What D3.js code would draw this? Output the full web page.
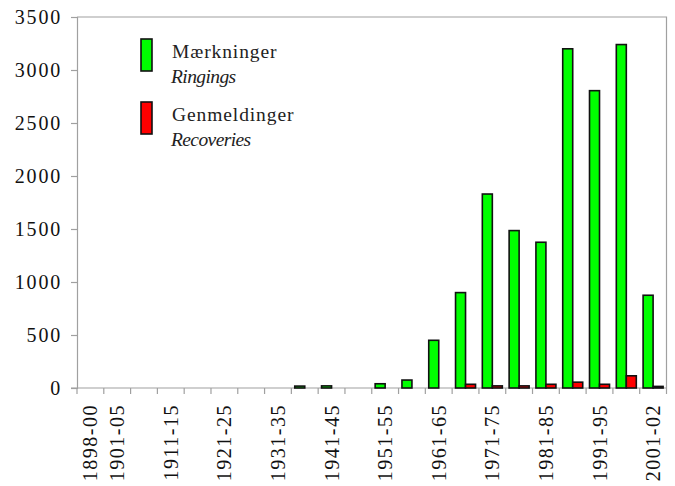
<!DOCTYPE html>
<html><head><meta charset="utf-8">
<script src="https://cdn.jsdelivr.net/npm/d3@7"></script>
<style>body{margin:0;background:#fff}svg{display:block}</style>
</head><body><svg id="c" width="675" height="486"></svg>
<script>
const categories = ["1898-00","1901-05","1906-10","1911-15","1916-20","1921-25","1926-30","1931-35","1936-40","1941-45","1946-50","1951-55","1956-60","1961-65","1966-70","1971-75","1976-80","1981-85","1986-90","1991-95","1996-00","2001-02"];
const ringings   = [0,0,0,0,0,0,0,0,18,20,0,40,75,450,900,1830,1485,1375,3200,2805,3240,875];
const recoveries = [0,0,0,0,0,0,0,0,0,0,0,0,0,0,35,20,20,35,55,35,115,15];
const tickLabels = ["1898-00","1901-05","","1911-15","","1921-25","","1931-35","","1941-45","","1951-55","","1961-65","","1971-75","","1981-85","","1991-95","","2001-02"];
const yTicks = [0,500,1000,1500,2000,2500,3000,3500];
const seriesNames = [["Mærkninger","Ringings"],["Genmeldinger","Recoveries"]];
const colors = ["#00ff00","#ff0000"];

const FONT = "Liberation Serif";
const svg = d3.select("#c");
const L = 77, R = 666.5, T = 17, B = 388;
const x = d3.scaleBand().domain(categories).range([L, R]).padding(0);
const sub = d3.scaleBand().domain([0,1]).range([0, x.bandwidth()]).paddingInner(0).paddingOuter(0.34);
const y = d3.scaleLinear().domain([0,3500]).range([B, T]);

function serif(sel){ return sel.attr("font-family", FONT).style("font-family", "'Liberation Serif'", "important"); }

// plot border (top, right)
svg.append("path").attr("d", `M${L},${T}H${R}V${B}`).attr("fill","none").attr("stroke","#a0a0a0").attr("stroke-width",1.2);

// y axis (lines via d3.axis, labels drawn from the scale)
const ya = svg.append("g").attr("transform",`translate(${L},0)`)
  .call(d3.axisLeft(y).tickValues(yTicks).tickSize(6).tickFormat(""));
ya.select(".domain").attr("stroke","#a0a0a0").attr("stroke-width",1.2);
ya.selectAll(".tick line").attr("stroke","#a0a0a0").attr("stroke-width",1.2);
serif(svg.append("g").selectAll("text").data(yTicks).join("text"))
  .attr("x", L - 15).attr("y", d => y(d)).attr("dy","0.35em")
  .attr("text-anchor","end").attr("fill","#111").attr("font-size",20).attr("letter-spacing","1.8px")
  .text(d => d3.format("d")(d));

// x axis
const xa = svg.append("g").attr("transform",`translate(0,${B})`)
  .call(d3.axisBottom(x).tickSize(0).tickFormat(""));
xa.select(".domain").attr("stroke","#a0a0a0").attr("stroke-width",1.2).attr("d",`M${L-6},0H${R}`);
serif(svg.append("g").selectAll("text").data(categories.map((c,i)=>({c, t: tickLabels[i]})).filter(d=>d.t)).join("text"))
  .attr("transform", d => `translate(${x(d.c) + x.bandwidth()/2},${B + 16}) rotate(-90)`)
  .attr("dy","0.35em").attr("text-anchor","end").attr("fill","#111")
  .attr("font-size",20).attr("letter-spacing","1.5px").text(d => d.t);
// boundary ticks
const bounds = categories.map(c => x(c)).concat([R]);
svg.append("g").selectAll("line").data(bounds).join("line")
  .attr("x1",d=>d).attr("x2",d=>d).attr("y1",B).attr("y2",B+6)
  .attr("stroke","#a0a0a0").attr("stroke-width",1.2);

// bars
const series = [ringings, recoveries];
series.forEach((vals, si) => {
  svg.append("g").selectAll("rect")
    .data(categories.map((c,i)=>({c, v: vals[i]})).filter(d=>d.v>0))
    .join("rect")
    .attr("x", d => x(d.c) + sub(si))
    .attr("width", sub.bandwidth())
    .attr("y", d => y(d.v))
    .attr("height", d => B - y(d.v))
    .attr("fill", colors[si]).attr("stroke","#111").attr("stroke-width",1.6);
});

// legend
const lg = svg.append("g");
const legY = [39, 102];
seriesNames.forEach((n, i) => {
  lg.append("rect").attr("x",141).attr("y",legY[i]).attr("width",11).attr("height",32)
    .attr("fill",colors[i]).attr("stroke","#111").attr("stroke-width",1.6);
  serif(lg.append("text")).attr("x",172).attr("y",legY[i]+18.5).attr("fill","#222").attr("font-size",19.5).attr("letter-spacing","0.9px").text(n[0]);
  serif(lg.append("text")).attr("x",171).attr("y",legY[i]+44).attr("fill","#222").attr("font-size",19.5).attr("font-style","italic").attr("letter-spacing","-0.6px").text(n[1]);
});
</script></body></html>
